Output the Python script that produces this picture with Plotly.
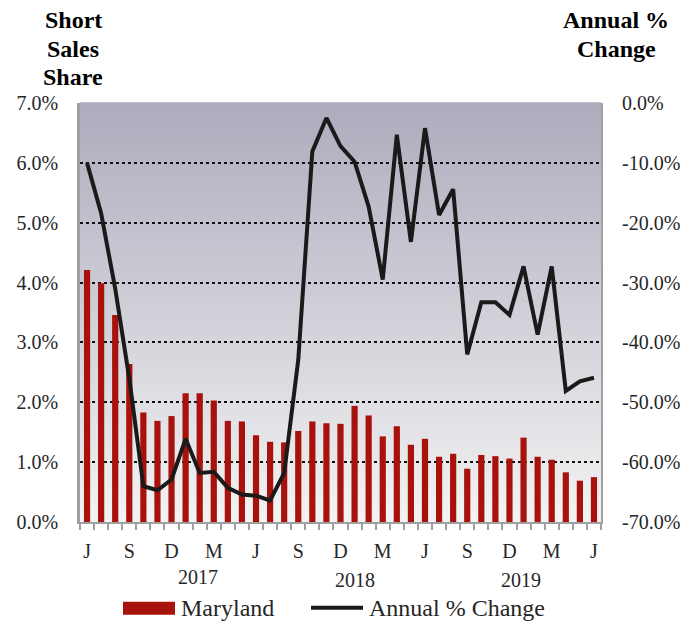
import plotly.graph_objects as go

# ---- data (June 2016 .. June 2019, monthly) ----
month_letters = ["J", "J", "A", "S", "O", "N", "D", "J", "F", "M", "A", "M",
                 "J", "J", "A", "S", "O", "N", "D", "J", "F", "M", "A", "M",
                 "J", "J", "A", "S", "O", "N", "D", "J", "F", "M", "A", "M", "J"]
maryland_share = [4.21, 3.99, 3.46, 2.64, 1.83, 1.69, 1.77, 2.15, 2.15, 2.03,
                  1.69, 1.68, 1.45, 1.34, 1.33, 1.52, 1.68, 1.65, 1.64, 1.94,
                  1.78, 1.43, 1.60, 1.29, 1.39, 1.09, 1.14, 0.89, 1.12, 1.10,
                  1.06, 1.41, 1.09, 1.04, 0.83, 0.69, 0.75]
annual_change = [-10.0, -18.4, -31.0, -46.0, -64.0, -64.7, -62.9, -56.1, -61.8, -61.6,
                 -64.3, -65.4, -65.6, -66.4, -61.8, -42.9, -8.1, -2.5, -7.2, -9.8,
                 -17.3, -29.5, -5.3, -23.2, -4.2, -18.7, -14.4, -42.0, -33.3, -33.3,
                 -35.4, -27.3, -38.7, -27.3, -48.1, -46.5, -45.9]
year_labels = ["2017", "2018", "2019"]
left_title_lines = ["Short", "Sales", "Share"]
right_title_lines = ["Annual %", "Change"]
left_ticks = [0, 1, 2, 3, 4, 5, 6, 7]
right_ticks = [-70, -60, -50, -40, -30, -20, -10, 0]

x_idx = list(range(len(maryland_share)))
tick_idx = x_idx[::3]
tick_txt = [month_letters[i] for i in tick_idx]

FONT = "Liberation Serif"
BAR_COLOR = "#a8120c"
LINE_COLOR = "#1a1a1a"
AXIS_GRAY = "#a0a0a0"
TEXT_COLOR = "#262626"

fig = go.Figure()
fig.add_trace(go.Bar(x=x_idx, y=maryland_share, name="Maryland",
                     marker=dict(color=BAR_COLOR, line=dict(width=0)),
                     width=0.44, yaxis="y"))
fig.add_trace(go.Scatter(x=x_idx, y=annual_change, name="Annual % Change",
                         mode="lines", line=dict(color=LINE_COLOR, width=4),
                         yaxis="y2"))

# gradient background bands
N = 120
top = (173, 172, 189)
bot = (243, 243, 243)
shapes = []
for i in range(N):
    t = i / (N - 1)  # 0 bottom -> 1 top
    c = tuple(round(bot[k] + (top[k] - bot[k]) * t) for k in range(3))
    shapes.append(dict(type="rect", xref="paper", yref="paper",
                       x0=0, x1=1, y0=i / N, y1=(i + 1) / N + 0.002,
                       fillcolor="rgb(%d,%d,%d)" % c, line=dict(width=0),
                       layer="below"))

# manual legend
def px_x(p):
    return (p - 80) / 521.0

def px_y(p):
    return (522.3 - p) / 419.0

shapes.append(dict(type="rect", xref="paper", yref="paper",
                   x0=px_x(123), x1=px_x(175), y0=px_y(615), y1=px_y(602),
                   fillcolor=BAR_COLOR, line=dict(width=0)))
shapes.append(dict(type="line", xref="paper", yref="paper",
                   x0=px_x(311), x1=px_x(363), y0=px_y(608), y1=px_y(608),
                   line=dict(color=LINE_COLOR, width=4)))

annotations = []
for txt, yp in zip(left_title_lines, [20, 49, 77]):
    annotations.append(dict(text="<b>%s</b>" % txt, xref="paper", yref="paper",
                            x=px_x(73), y=px_y(yp), xanchor="center", yanchor="middle",
                            showarrow=False, font=dict(family=FONT, size=24, color="#000")))
for txt, yp in zip(right_title_lines, [20, 49]):
    annotations.append(dict(text="<b>%s</b>" % txt, xref="paper", yref="paper",
                            x=px_x(616), y=px_y(yp), xanchor="center", yanchor="middle",
                            showarrow=False, font=dict(family=FONT, size=24, color="#000")))
annotations += [
    dict(text="Maryland", xref="paper", yref="paper", x=px_x(179), y=px_y(608),
         xanchor="left", yanchor="middle", showarrow=False,
         font=dict(family=FONT, size=24, color=TEXT_COLOR)),
    dict(text="Annual % Change", xref="paper", yref="paper", x=px_x(367), y=px_y(608),
         xanchor="left", yanchor="middle", showarrow=False,
         font=dict(family=FONT, size=24, color=TEXT_COLOR)),
]
year_pos = [(7.85, 577), (19.05, 580), (30.85, 580)]
for lbl, (xp, yp) in zip(year_labels, year_pos):
    annotations.append(dict(text=lbl, x=xp, xref="x", y=px_y(yp), yref="paper",
                            xanchor="center", yanchor="middle", showarrow=False,
                            font=dict(family=FONT, size=20, color=TEXT_COLOR)))

fig.update_layout(
    width=694, height=622,
    margin=dict(l=80, r=93, t=103, b=100, pad=0),
    paper_bgcolor="white", plot_bgcolor="rgba(0,0,0,0)",
    showlegend=False,
    font=dict(family=FONT, size=20, color=TEXT_COLOR),
    shapes=shapes, annotations=annotations,
    xaxis=dict(range=[-0.5, len(x_idx) - 0.5], tickmode="array",
               tickvals=tick_idx, ticktext=tick_txt,
               ticks="outside", ticklen=10, tickcolor="rgba(0,0,0,0)",
               showgrid=False, zeroline=False,
               showline=True, linecolor=AXIS_GRAY, linewidth=2,
               minor=dict(tickmode="array",
                          tickvals=[i - 0.5 for i in range(len(x_idx) + 1)],
                          ticks="outside", ticklen=6, tickcolor=AXIS_GRAY,
                          tickwidth=1.5, showgrid=False),
               tickfont=dict(family=FONT, size=20, color=TEXT_COLOR)),
    yaxis=dict(range=[0, 7], tickmode="array", tickvals=left_ticks,
               ticktext=["%.1f%%" % v for v in left_ticks],
               ticks="outside", ticklen=15, tickcolor="rgba(0,0,0,0)",
               showgrid=True, gridcolor="#111", griddash="dot", gridwidth=2,
               zeroline=False, showline=True, linecolor=AXIS_GRAY, linewidth=2.5,
               tickfont=dict(family=FONT, size=20, color=TEXT_COLOR)),
    yaxis2=dict(range=[-70, 0], overlaying="y", side="right",
                tickmode="array", tickvals=right_ticks,
                ticktext=["%.1f%%" % v for v in right_ticks],
                ticks="outside", ticklen=15, tickcolor="rgba(0,0,0,0)",
                showgrid=False, zeroline=False,
                showline=True, linecolor=AXIS_GRAY, linewidth=2,
                tickfont=dict(family=FONT, size=20, color=TEXT_COLOR)),
)

fig.write_html("out.html", config={"displayModeBar": False},
               post_script="document.body.style.margin='0';document.body.style.padding='0';")
